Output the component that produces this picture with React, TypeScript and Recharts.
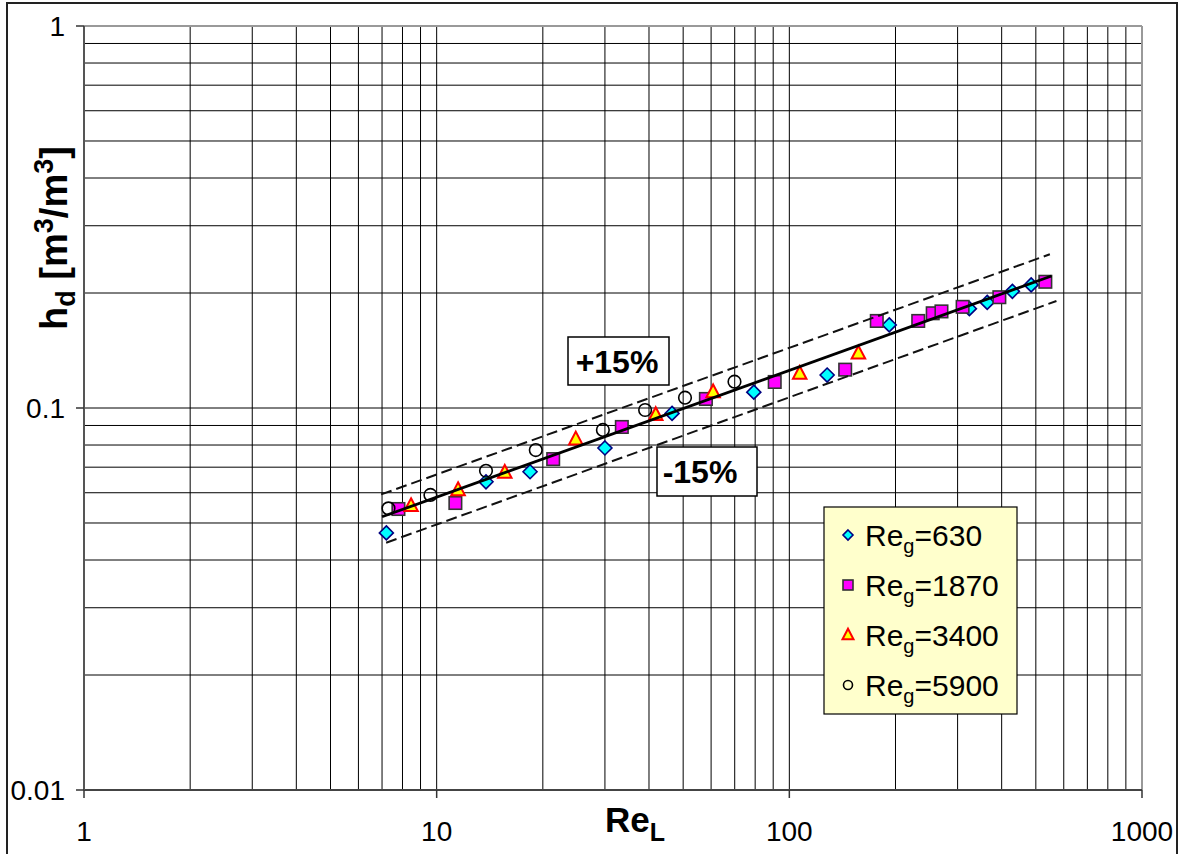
import { Scatter, ScatterChart, XAxis, YAxis, CartesianGrid, ReferenceLine } from "recharts";

const W = 1186;
const H = 854;

// series
const re630X = [7.2, 13.8, 18.4, 30.0, 46.5, 79.3, 128, 192, 324, 364, 429, 485];
const re630Y = [0.0471, 0.0641, 0.0681, 0.0786, 0.0968, 0.110, 0.122, 0.165, 0.182, 0.189, 0.202, 0.210];

const re1870X = [7.79, 11.3, 21.4, 33.5, 58.0, 90.9, 144, 177, 232, 255, 270, 310, 394, 532];
const re1870Y = [0.0544, 0.0564, 0.0735, 0.0892, 0.1056, 0.117, 0.126, 0.169, 0.169, 0.177, 0.179, 0.184, 0.195, 0.214];

const re3400X = [8.46, 11.5, 15.6, 24.8, 41.8, 60.8, 107, 157];
const re3400Y = [0.0554, 0.061, 0.0677, 0.0828, 0.0959, 0.110, 0.123, 0.139];

const re5900X = [7.3, 9.6, 13.8, 19.1, 29.6, 39.0, 50.6, 69.9];
const re5900Y = [0.0546, 0.0592, 0.0685, 0.0776, 0.0876, 0.0988, 0.1064, 0.1172];

// correlation line and +/-15% band (end points)
const fitX = [7.0, 554];
const fitY = [0.0519, 0.2216];
const upperX = [6.96, 548];
const upperY = [0.0594, 0.2526];
const lowerX = [7.19, 572];
const lowerY = [0.0444, 0.1906];

const xTicks = [
  1, 2, 3, 4, 5, 6, 7, 8, 9,
  10, 20, 30, 40, 50, 60, 70, 80, 90,
  100, 200, 300, 400, 500, 600, 700, 800, 900,
  1000,
];
const xMajor = [1, 10, 100, 1000];

const yTicks = [
  0.01, 0.02, 0.03, 0.04, 0.05, 0.06, 0.07, 0.08, 0.09,
  0.1, 0.2, 0.3, 0.4, 0.5, 0.6, 0.7, 0.8, 0.9,
  1,
];
const yMajor = [0.01, 0.1, 1];

const legendLabels = ["630", "1870", "3400", "5900"];

const FONT = "'Liberation Sans', Arial, sans-serif";

function toPoints(xs: number[], ys: number[]) {
  return xs.map((x, i) => ({ x, y: ys[i] }));
}

function diamond(cx: number, cy: number, r: number) {
  return (
    <polygon
      points={`${cx},${cy - r} ${cx + r},${cy} ${cx},${cy + r} ${cx - r},${cy}`}
      fill="#00FFFF"
      stroke="#000080"
      strokeWidth={1.6}
    />
  );
}

function square(cx: number, cy: number, s: number) {
  return (
    <rect x={cx - s / 2} y={cy - s / 2} width={s} height={s} fill="#FF00FF" stroke="#333" strokeWidth={1.6} />
  );
}

function triangle(cx: number, cy: number, s: number) {
  const h = s * 0.95;
  return (
    <polygon
      points={`${cx},${cy - h * 0.6} ${cx + s / 2},${cy + h * 0.4} ${cx - s / 2},${cy + h * 0.4}`}
      fill="#FFFF00"
      stroke="#FF0000"
      strokeWidth={2}
    />
  );
}

function circle(cx: number, cy: number, r: number) {
  return <circle cx={cx} cy={cy} r={r} fill="none" stroke="#000" strokeWidth={1.6} />;
}

const DiamondShape = (p: any) => diamond(p.cx, p.cy, 7);
const SquareShape = (p: any) => square(p.cx, p.cy, 12.5);
const TriangleShape = (p: any) => triangle(p.cx, p.cy, 13.5);
const CircleShape = (p: any) => circle(p.cx, p.cy, 6.3);
const NoShape = () => <g />;

function XTick(props: any) {
  const { x, y, payload } = props;
  if (!xMajor.includes(payload.value)) return <g />;
  return (
    <g>
      <line x1={x} x2={x} y1={y} y2={y + 8} stroke="#333" strokeWidth={1.5} />
      <text x={x} y={y + 51} textAnchor="middle" fontSize={28} fontFamily={FONT} fill="#000">
        {payload.value}
      </text>
    </g>
  );
}

function YTick(props: any) {
  const { x, y, payload } = props;
  if (!yMajor.includes(payload.value)) return <g />;
  return (
    <g>
      <line x1={x - 8} x2={x} y1={y} y2={y} stroke="#333" strokeWidth={1.5} />
      <text x={x - 19} y={y + 10} textAnchor="end" fontSize={28} fontFamily={FONT} fill="#000">
        {payload.value}
      </text>
    </g>
  );
}

function Overlay() {
  const rowBase = [546, 596, 646, 696];
  const markers = [
    (cx: number, cy: number) => diamond(cx, cy, 5),
    (cx: number, cy: number) => square(cx, cy, 10),
    (cx: number, cy: number) => triangle(cx, cy, 11),
    (cx: number, cy: number) => circle(cx, cy, 4.5),
  ];
  return (
    <svg width={W} height={H} style={{ position: "absolute", left: 0, top: 0, pointerEvents: "none" }}>
      <rect x={7} y={3} width={1170} height={870} fill="none" stroke="#222" strokeWidth={2} />

      {/* axis titles */}
      <text x={605} y={832} fontSize={35} fontWeight="bold" fontFamily={FONT} fill="#000">
        Re
        <tspan fontSize={25} dy={9}>L</tspan>
      </text>
      <text
        x={67}
        y={238}
        transform="rotate(-90, 67, 238)"
        textAnchor="middle"
        fontSize={38}
        fontWeight="bold"
        fontFamily={FONT}
        fill="#000"
      >
        h<tspan fontSize={27} dy={8}>d</tspan>
        <tspan dy={-8}> [m</tspan>
        <tspan fontSize={27} dy={-14}>3</tspan>
        <tspan dy={14}>/m</tspan>
        <tspan fontSize={27} dy={-14}>3</tspan>
        <tspan dy={14}>]</tspan>
      </text>

      {/* band labels */}
      <rect x={568} y={337} width={101} height={48} fill="#fff" stroke="#000" strokeWidth={1.5} />
      <text x={617} y={373} textAnchor="middle" fontSize={32} fontWeight="bold" fontFamily={FONT} fill="#000">
        +15%
      </text>
      <rect x={657} y={447} width={100} height={49} fill="#fff" stroke="#000" strokeWidth={1.5} />
      <text x={700} y={483} textAnchor="middle" fontSize={32} fontWeight="bold" fontFamily={FONT} fill="#000">
        -15%
      </text>

      {/* legend */}
      <rect x={824} y={507} width={193} height={207} fill="#FFFFCC" stroke="#000" strokeWidth={1.2} />
      {legendLabels.map((lab, i) => (
        <g key={lab}>
          {markers[i](848, rowBase[i] - 11)}
          <text x={865} y={rowBase[i]} fontSize={30} fontFamily={FONT} fill="#000">
            Re<tspan fontSize={20} dy={7}>g</tspan>
            <tspan dy={-7}>={lab}</tspan>
          </text>
        </g>
      ))}
    </svg>
  );
}

export default function App() {
  return (
    <div style={{ position: "absolute", left: 0, top: 0, width: W, height: H, background: "#fff" }}>
      <ScatterChart width={W} height={H} margin={{ top: 26, right: 44, bottom: 8, left: 8 }}>
        <CartesianGrid stroke="#000" strokeWidth={1} />
        <XAxis
          dataKey="x"
          type="number"
          scale="log"
          domain={[1, 1000]}
          allowDataOverflow
          ticks={xTicks}
          interval={0}
          height={56}
          tickSize={0}
          tickMargin={0}
          tickLine={false}
          tick={<XTick />}
          axisLine={{ stroke: "#444", strokeWidth: 2 }}
        />
        <YAxis
          dataKey="y"
          type="number"
          scale="log"
          domain={[0.01, 1]}
          allowDataOverflow
          ticks={yTicks}
          interval={0}
          width={76}
          tickSize={0}
          tickMargin={0}
          tickLine={false}
          tick={<YTick />}
          axisLine={{ stroke: "#555", strokeWidth: 2 }}
        />
        <ReferenceLine y={1} stroke="#999" strokeWidth={2} />
        <ReferenceLine x={1000} stroke="#999" strokeWidth={2} />
        <Scatter data={toPoints(re630X, re630Y)} shape={DiamondShape} isAnimationActive={false} />
        <Scatter data={toPoints(re1870X, re1870Y)} shape={SquareShape} isAnimationActive={false} />
        <Scatter data={toPoints(re3400X, re3400Y)} shape={TriangleShape} isAnimationActive={false} />
        <Scatter data={toPoints(re5900X, re5900Y)} shape={CircleShape} isAnimationActive={false} />
        <Scatter
          data={toPoints(upperX, upperY)}
          shape={NoShape}
          line={{ stroke: "#111", strokeWidth: 2, strokeDasharray: "11 5" }}
          isAnimationActive={false}
        />
        <Scatter
          data={toPoints(lowerX, lowerY)}
          shape={NoShape}
          line={{ stroke: "#111", strokeWidth: 2, strokeDasharray: "11 5" }}
          isAnimationActive={false}
        />
        <Scatter
          data={toPoints(fitX, fitY)}
          shape={NoShape}
          line={{ stroke: "#000", strokeWidth: 2.8 }}
          isAnimationActive={false}
        />
      </ScatterChart>
      <Overlay />
    </div>
  );
}
